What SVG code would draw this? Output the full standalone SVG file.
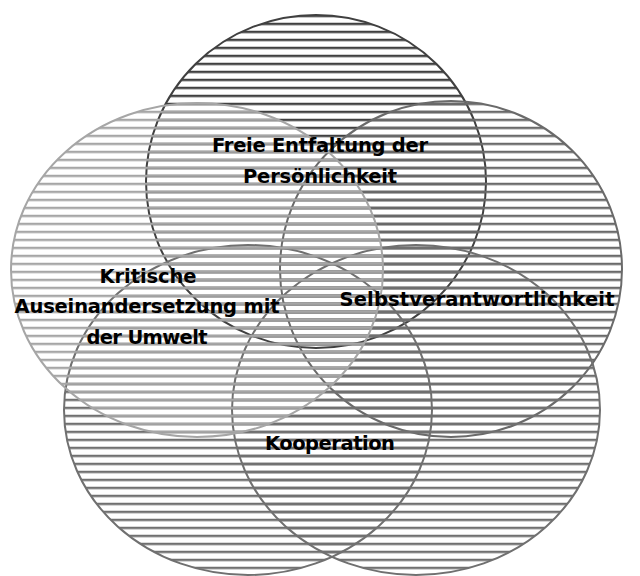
<svg xmlns="http://www.w3.org/2000/svg" width="640" height="576" viewBox="0 0 640 576">
<style>
.lbl{font-family:"DejaVu Sans","Liberation Sans",sans-serif;font-weight:bold;font-size:19.5px;fill:#000;text-anchor:middle}
.ring{stroke-width:2}
</style>
<defs>
<pattern id="pDark" patternUnits="userSpaceOnUse" x="0" y="-1.25" width="640" height="8"><rect x="0" y="0" width="640" height="2.4" fill="#404040"/></pattern>
<pattern id="pMid" patternUnits="userSpaceOnUse" x="0" y="-1.25" width="640" height="8"><rect x="0" y="0" width="640" height="2.4" fill="#6a6a6a"/></pattern>
<pattern id="pBot" patternUnits="userSpaceOnUse" x="0" y="-1.25" width="640" height="8"><rect x="0" y="0" width="640" height="2.4" fill="#707070"/></pattern>
<pattern id="pLight" patternUnits="userSpaceOnUse" x="0" y="-1.25" width="640" height="8"><rect x="0" y="0" width="640" height="2.4" fill="#a6a6a6"/></pattern>
</defs>
<rect width="640" height="576" fill="#fff"/>
<g id="top-circle"><ellipse class="ring" cx="316" cy="181.5" rx="170" ry="166.5" fill="url(#pDark)" stroke="#404040"/></g>
<g id="right-circle"><ellipse class="ring" cx="451" cy="269" rx="171" ry="168" fill="url(#pMid)" stroke="#6a6a6a"/></g>
<g id="bottom-right-circle"><ellipse class="ring" cx="416" cy="410" rx="184" ry="165" fill="url(#pBot)" stroke="#707070"/></g>
<g id="bottom-left-circle"><ellipse class="ring" cx="248" cy="410" rx="184" ry="165" fill="url(#pBot)" stroke="#707070"/></g>
<g id="left-circle"><ellipse class="ring" cx="197" cy="270" rx="186" ry="167" fill="url(#pLight)" stroke="#a6a6a6"/></g>
<g id="connectors"></g>
<g id="labels">
<text class="lbl" x="320" y="152" textLength="216">Freie Entfaltung der</text>
<text class="lbl" x="320" y="183" textLength="154">Persönlichkeit</text>
<text class="lbl" x="148" y="283" textLength="97">Kritische</text>
<text class="lbl" x="147" y="313" textLength="265">Auseinandersetzung mit</text>
<text class="lbl" x="147" y="344" textLength="121">der Umwelt</text>
<text class="lbl" x="477" y="306" textLength="275">Selbstverantwortlichkeit</text>
<text class="lbl" x="330" y="450" textLength="130">Kooperation</text>
</g>
</svg>
